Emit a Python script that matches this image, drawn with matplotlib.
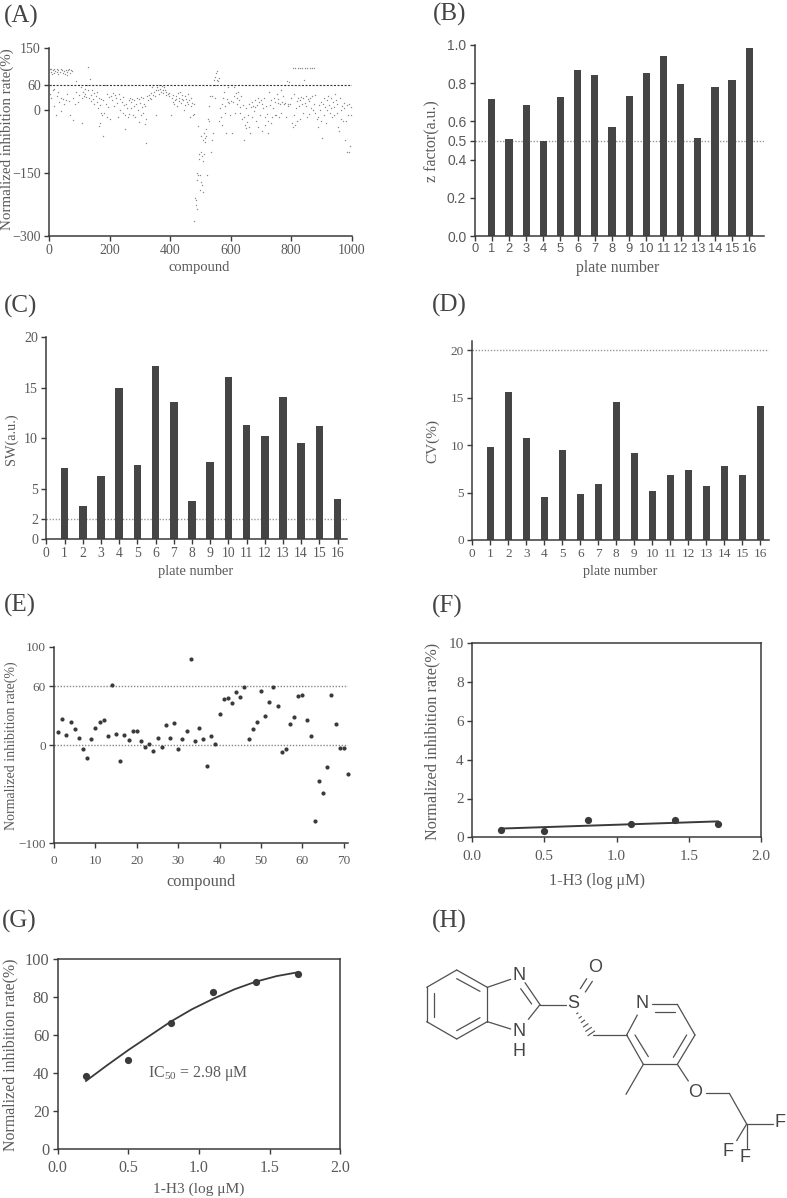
import numpy as np
import matplotlib
matplotlib.use('Agg')
import matplotlib.pyplot as plt

plt.rcParams['font.family'] = ['Liberation Serif', 'DejaVu Serif']
plt.rcParams['mathtext.default'] = 'regular'

W, H = 787, 1198
TEXT = '#5a5a5a'
DARK = '#3a3a3a'
BAR = '#454545'

# panel A (compound, rate)
a_top = [(3,98),(6,92),(8,100),(12,96),(15,90),(18,100),(21,95),(25,99),(28,93),(31,97),(35,92),(38,100),(42,96),(45,90),
         (48,94),(52,88),(55,97),(58,92),(62,96),(65,100),(68,90),(72,97),(75,95),(10,86),(30,88),(60,84),
         (805,102),(813,102),(821,102),(829,102),(837,102),(845,102),(853,102),(861,102),(869,102),(875,102)]
a_0_200 = [(2,40),(5,30),(8,60),(12,50),(15,52),(18,10),(22,-10),(25,35),(30,45),(33,20),(38,-2),(40,30),(45,28),(50,15),
           (55,25),(60,40),(65,22),(70,-12),(78,-22),(80,30),(85,15),(88,70),(90,45),(95,20),(98,62),(100,38),(105,55),
           (110,30),(112,45),(115,35),(118,40),(120,52),(122,32),(125,60),(128,48),(130,105),(132,30),(135,75),(138,22),
           (140,38),(142,50),(145,28),(148,15),(150,42),(155,35),(158,20),(160,45),(162,5),(165,30),(168,-30),(170,12),
           (172,28),(175,-10),(178,25),(180,-60),(182,-5),(185,60),(188,15),(190,40),(192,-15),(195,8),(198,32),
           (110,-30),(165,-38),(172,-5)]
a_200_400 = [(202,-20),(205,35),(208,25),(212,42),(215,10),(218,38),(222,30),(225,18),(228,-15),(230,40),(233,28),(236,2),
             (238,60),(240,20),(243,-5),(245,32),(248,12),(250,-10),(252,-45),(255,15),(258,5),(260,-15),(263,25),(265,-8),
             (268,30),(270,20),(272,5),(275,28),(278,-12),(280,10),(282,25),(285,-15),(288,15),(290,30),(293,2),(296,28),
             (298,-28),(300,18),(303,32),(305,-12),(308,8),(310,30),(312,-5),(314,15),(316,-32),(318,10),(320,-78),(322,-20),
             (325,35),(328,25),(330,38),(333,30),(336,42),(338,28),(340,55),(342,38),(345,60),(347,45),(350,35),(352,50),
             (355,-12),(357,55),(360,48),(362,60),(365,40),(368,52),(370,45),(372,58),(375,48),(378,42),(380,55),(383,50),
             (386,38),(388,45),(392,40),(395,35),(398,42)]
a_400_600 = [(402,-10),(405,30),(408,20),(410,38),(413,15),(416,25),(418,35),(420,28),(423,10),(425,42),(428,22),(430,30),
             (433,45),(436,18),(438,28),(440,38),(443,25),(445,0),(448,35),(450,12),(453,28),(455,20),(458,40),(460,15),
             (462,25),(465,-15),(468,30),(470,10),(472,18),(475,-10),(478,15),(480,-8),
             (478,-265),(482,-208),(484,-215),(486,-225),(488,-235),(488,-150),(490,-165),(492,-155),(493,-38),(495,-105),
             (497,-115),(498,-155),(500,-190),(501,-100),(503,-170),(505,-110),(507,-178),(509,-195),(510,-120),(511,-105),
             (503,-60),(508,-70),(512,-55),(514,-75),(516,-65),(518,-45),(520,-60),(523,-155),(525,-20),(527,10),
             (530,-25),(533,35),(535,-100),(538,-70),(540,35),(542,-55),(545,72),(547,30),(549,80),(550,60),(552,90),(554,72),
             (556,95),(558,70),(560,78),(562,-25),(565,5),(568,-15),(570,-35),(572,15),(575,30),(578,45),(580,-5),(582,10),
             (585,-55),(588,28),(590,20),(592,55),(595,18),(597,-12),(600,22)]
a_600_800 = [(603,-55),(605,60),(608,20),(610,35),(612,55),(615,-5),(618,42),(620,15),(622,30),(625,45),(628,25),(630,8),
             (632,-5),(635,35),(638,-20),(640,12),(643,-70),(645,-15),(648,-35),(650,5),(652,-42),(655,-28),(657,-10),(660,-40),
             (662,15),(665,-55),(668,8),(670,20),(672,-15),(675,10),(678,-2),(680,25),(682,8),(685,-25),(688,12),(690,30),
             (692,-40),(695,20),(698,-10),(700,25),(703,15),(705,-50),(708,5),(710,30),(712,-15),(715,-35),(718,10),(720,-8),
             (722,-55),(725,-25),(728,45),(730,12),(732,-30),(735,25),(738,-15),(740,5),(742,30),(745,-10),(748,20),(750,-12),
             (752,40),(755,18),(758,28),(760,-15),(762,15),(765,50),(768,-5),(770,20),(772,35),(775,15),(778,62),(780,18),
             (783,-15),(785,70),(788,15),(790,10),(793,68),(796,15),(798,30)]
a_800_1000 = [(802,-30),(805,-40),(808,40),(810,-10),(812,-35),(815,5),(818,22),(820,-25),(822,30),(825,10),(828,-20),(830,25),
              (832,32),(835,15),(838,-5),(840,30),(842,72),(845,18),(848,35),(850,10),(852,-15),(855,28),(858,22),(860,-8),
              (863,30),(866,5),(870,35),(873,0),(875,15),(878,38),(880,-5),(885,-20),(888,-40),(890,-15),(893,12),(896,0),
              (898,20),(900,-25),(902,-65),(905,15),(908,-10),(910,30),(913,8),(916,-30),(918,25),(920,0),(923,35),(925,12),
              (928,-5),(930,30),(933,5),(936,-15),(938,20),(940,8),(943,-10),(945,40),(948,25),(950,-5),(953,15),(955,-40),
              (958,-50),(960,30),(963,0),(966,-20),(968,10),(970,-25),(973,18),(975,5),(978,-70),(980,-25),(983,-100),(985,12),
              (988,-10),(990,15),(992,-100),(995,-85),(997,8),(999,-10)]

plates = list(range(1, 17))
plate_ticks = list(range(0, 17))
z_factor = [0.715, 0.508, 0.683, 0.50, 0.725, 0.87, 0.84, 0.572, 0.734, 0.854, 0.939, 0.797, 0.511, 0.779, 0.814, 0.984]
sw = [7.07, 3.24, 6.25, 15.0, 7.3, 17.2, 13.6, 3.8, 7.67, 16.03, 11.3, 10.25, 14.1, 9.55, 11.24, 3.93]
cv = [9.8, 15.6, 10.7, 4.55, 9.5, 4.83, 5.86, 14.5, 9.2, 5.15, 6.8, 7.37, 5.64, 7.8, 6.84, 14.1]

e_rate = [12.9, 26.4, 9.8, 23.4, 16.6, 6.8, -4, -13.2, 6.1, 17.3, 23, 25.4, 8.8, 61.4, 11.2, -16.6, 10.2, 5.1, 14.2, 13.9,
          4.4, -2.4, 1, -6.4, 6.8, -1.7, 20.7, 6.8, 22.7, -3.7, 5.8, 13.9, 87.1, 3.7, 17, 5.8, -21.4, 9.5, 1.4, 31.2,
          46.4, 48.1, 42.4, 53.9, 48.5, 59, 5.8, 15.9, 23.7, 54.9, 29.8, 43.4, 59, 39.7, -7.5, -3.7, 21.7, 28.1, 50.2, 51.2,
          25.8, 8.8, -77.6, -36.3, -49.2, -22.4, 50.8, 21.4, -2.7, -3, -29.5]

dose = [0.2, 0.5, 0.8, 1.1, 1.4, 1.7]
f_rate = [0.4, 0.32, 0.87, 0.7, 0.87, 0.67]
f_fit_x = [0.2, 1.7]
f_fit_y = [0.45, 0.82]
g_rate = [38.2, 47, 66, 82.5, 87.8, 92]
g_fit_x = [0.2, 0.35, 0.5, 0.65, 0.8, 0.95, 1.1, 1.25, 1.4, 1.55, 1.7]
g_fit_y = [35.7, 44, 52, 59.5, 67, 73.5, 79, 84, 88, 91, 93]


def make_axes(left, right, top, bottom):
    # pixel box of the plot area
    return fig.add_axes([left / W, 1 - bottom / H, (right - left) / W, (bottom - top) / H])


def style(ax, box=False, family=None, xsize=10, ysize=10, xpad=2.5):
    for s in ['top', 'right']:
        ax.spines[s].set_visible(box)
    for s in ax.spines.values():
        s.set_linewidth(1.1)
        s.set_color(DARK)
    ax.tick_params(length=3.5, width=1, color=DARK, labelcolor=TEXT, pad=2.5)
    ax.tick_params(axis='x', labelsize=xsize, pad=xpad)
    ax.tick_params(axis='y', labelsize=ysize)
    if family:
        ax.tick_params(labelfontfamily=family)


def label(x, y, s, rot=0, size=10):
    fig.text(x / W, 1 - y / H, s, rotation=rot, ha='center', va='center', color=TEXT, fontsize=size)


def panel(x, y, s):
    fig.text(x / W, 1 - y / H, s, ha='left', va='center', color='#444444', fontsize=18)


def bars(ax, values, xmax, ymax, yticks, ref):
    ax.axhline(ref, color='#999999', lw=1, ls=(0, (1, 1.2)), zorder=1)
    ax.bar(plates, values, width=0.42, color=BAR, zorder=2)
    ax.set_xlim(0, xmax)
    ax.set_ylim(0, ymax)
    ax.set_xticks(plate_ticks)
    ax.set_yticks(yticks)


fig = plt.figure(figsize=(W / 100, H / 100), dpi=100)

# A
ax = make_axes(49, 351.7, 47.7, 236)
a_all = a_top + a_0_200 + a_200_400 + a_400_600 + a_600_800 + a_800_1000
ax.scatter([p[0] for p in a_all], [p[1] for p in a_all], s=1.0, color='#8a8a8a', linewidths=0, zorder=2)
ax.axhline(60, color='#333333', lw=0.8, ls=(0, (1.8, 1.4)), zorder=3)
ax.set_xlim(0, 1000)
ax.set_ylim(-300, 150)
ax.set_xticks([0, 200, 400, 600, 800, 1000])
ax.set_yticks([-300, -150, 0, 60, 150])
style(ax)
label(7.5, 139.5, 'Normalized inhibition rate(%)', 90, 10.8)
label(199.5, 268, 'compound', 0, 10.5)
panel(4, 16, '(A)')

# B
ax = make_axes(474.7, 764, 44.7, 236.3)
bars(ax, z_factor, 16.86, 1.0, [0, 0.2, 0.4, 0.5, 0.6, 0.8, 1.0], 0.5)
ax.set_yticklabels(['0.0', '0.2', '0.4', '0.5', '0.6', '0.8', '1.0'])
style(ax, family='Liberation Sans', xsize=9.3, xpad=1)
label(432, 141, 'z factor(a.u.)', 90, 11.4)
label(618, 268, 'plate number', 0, 11.4)
panel(433, 14, '(B)')

# C
ax = make_axes(46.3, 346.7, 337.3, 539)
bars(ax, sw, 16.5, 20, [0, 2, 5, 10, 15, 20], 2)
style(ax, xsize=9.8)
label(11, 439, 'SW(a.u.)', 90, 10.3)
label(196, 571, 'plate number', 0, 10.4)
panel(4, 306, '(C)')

# D
ax = make_axes(472.3, 769.3, 340.7, 540)
bars(ax, cv, 16.5, 21, [0, 5, 10, 15, 20], 20)
style(ax, xsize=9.5, ysize=9.5)
label(433, 441, 'CV(%)', 90, 11)
label(620, 572, 'plate number', 0, 10.3)
panel(432, 305, '(D)')

# E
ax = make_axes(54, 348, 646.7, 843.3)
ax.axhline(60, color='#888888', lw=1, ls=(0, (1, 1.2)), zorder=1)
ax.axhline(0, color='#888888', lw=1, ls=(0, (1, 1.2)), zorder=1)
ax.scatter(list(range(1, 72)), e_rate, s=9, color=DARK, linewidths=0, zorder=3, clip_on=False)
ax.set_xlim(0, 71)
ax.set_ylim(-100, 100)
ax.set_xticks([0, 10, 20, 30, 40, 50, 60, 70])
ax.set_yticks([-100, 0, 60, 100])
style(ax, xsize=9.5, ysize=9.5, xpad=5)
label(11, 746, 'Normalized inhibition rate(%)', 90, 10)
label(201, 882, 'compound', 0, 11.8)
panel(4, 605, '(E)')

# F
ax = make_axes(472, 761.3, 643.3, 837.3)
ax.plot(f_fit_x, f_fit_y, color=DARK, lw=1.4, zorder=2)
ax.scatter(dose, f_rate, s=27, color=DARK, linewidths=0, zorder=3)
ax.set_xlim(0, 2)
ax.set_ylim(0, 10)
ax.set_xticks([0, 0.5, 1.0, 1.5, 2.0])
ax.set_yticks([0, 2, 4, 6, 8, 10])
style(ax, box=True, xsize=11, ysize=11, xpad=5.5)
label(432, 741, 'Normalized inhibition rate(%)', 90, 11.7)
label(597, 881, '1-H3 (log μM)', 0, 11.6)
panel(432, 606, '(F)')

# G
ax = make_axes(57.7, 340.3, 959, 1148.7)
ax.plot(g_fit_x, g_fit_y, color=DARK, lw=1.3, zorder=2)
ax.scatter(dose, g_rate, s=27, color=DARK, linewidths=0, zorder=3)
ax.text(0.637, 39.4, 'IC$_{50}$ = 2.98 μM', color=TEXT, fontsize=11.4, ha='left', va='center')
ax.set_xlim(0, 2)
ax.set_ylim(0, 100)
ax.set_xticks([0, 0.5, 1.0, 1.5, 2.0])
ax.set_yticks([0, 20, 40, 60, 80, 100])
style(ax, box=True, xsize=11.5, ysize=11.8, xpad=4.5)
label(10, 1055, 'Normalized inhibition rate(%)', 90, 11.4)
label(199, 1189, '1-H3 (log μM)', 0, 11.1)
panel(2, 921, '(G)')

# H - structure drawing, coordinates on a 3x grid of the panel
panel(432, 921, '(H)')
ax = make_axes(400, 787, 900, 1198)
ax.set_xlim(0, 1161)
ax.set_ylim(894, 0)
ax.axis('off')
bonds = [((170, 210), (262, 262)), ((262, 262), (262, 365)), ((262, 365), (170, 417)), ((170, 417), (80, 365)),
         ((80, 365), (80, 262)), ((80, 262), (170, 210)), ((170, 236), (240, 274)), ((103, 278), (103, 350)),
         ((170, 392), (240, 353)),
         ((262, 262), (332, 238)), ((262, 365), (332, 387)), ((420, 314), (375, 248)), ((395, 312), (362, 266)),
         ((385, 358), (420, 314)), ((420, 314), (497, 314)),
         ((541, 266), (560, 236)), ((556, 276), (577, 244)),
         ((578, 405), (680, 405)), ((680, 405), (712, 345)), ((755, 313), (832, 313)), ((765, 337), (825, 337)),
         ((832, 313), (885, 405)), ((885, 405), (832, 493)), ((860, 405), (820, 472)), ((832, 493), (730, 493)),
         ((730, 493), (680, 405)), ((745, 470), (705, 405)), ((730, 493), (678, 583)), ((832, 493), (865, 543)),
         ((918, 580), (988, 580)), ((988, 580), (1040, 672)), ((1040, 672), (1118, 672)), ((1040, 672), (1040, 745)),
         ((1040, 672), (1010, 722))]
for p, q in bonds:
    ax.plot([p[0], q[0]], [p[1], q[1]], color='#505050', lw=0.9, solid_capstyle='round')
atoms = [('N', 357, 226), ('N', 357, 396), ('H', 357, 456), ('S', 520, 311), ('O', 585, 204), ('N', 725, 309),
         ('O', 884, 577), ('F', 1140, 667), ('F', 1035, 772), ('F', 985, 756)]
for s, x, y in atoms:
    ax.text(x, y, s, ha='center', va='center', color='#444444', fontsize=13, family='Liberation Sans')
# hashed wedge S to CH2
for t in np.linspace(0, 1, 6):
    cx, cy = 532 + t * 42, 340 + t * 60
    half = 2 + t * 10
    ax.plot([cx - half * 0.82, cx + half * 0.82], [cy + half * 0.57, cy - half * 0.57], color='#505050', lw=0.8)

fig.savefig('out.png', dpi=100)
